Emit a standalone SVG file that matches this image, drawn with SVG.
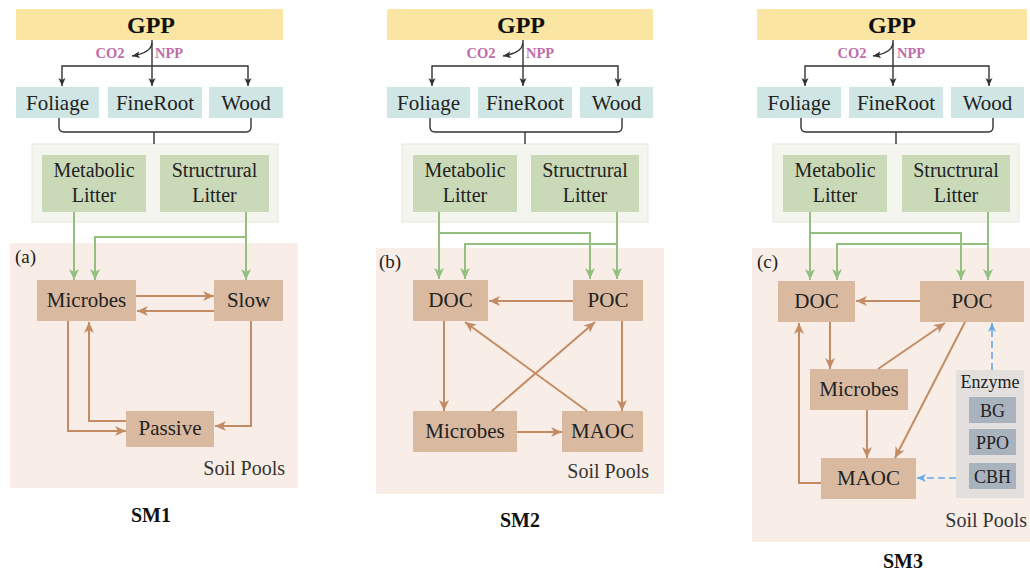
<svg xmlns="http://www.w3.org/2000/svg" width="1030" height="575" viewBox="0 0 1030 575" font-family="'Liberation Serif', serif">
  <style>
    text { font-family: 'Liberation Serif', serif; fill: #222; }
    .gpp-bar { fill: #fbe5a3; }
    .gpp { font-size: 24px; font-weight: bold; fill: #111; text-anchor: middle; }
    .flux { font-size: 14.5px; font-weight: bold; fill: #c06ca8; }
    .veg { fill: #d0e6e4; }
    .veg-t { font-size: 21px; text-anchor: middle; }
    .lit-wrap { fill: #f4f5ef; stroke: #e5e7dc; stroke-width: 1; }
    .lit { fill: #cad9b8; }
    .lit-t { font-size: 20px; text-anchor: middle; }
    .soil { fill: #f8eee7; }
    .pool { fill: #d9b9a0; }
    .pool-t { font-size: 21px; text-anchor: middle; }
    .tag { font-size: 19px; }
    .soil-t { font-size: 20px; text-anchor: end; fill: #333; }
    .sm { font-size: 20px; font-weight: bold; text-anchor: middle; fill: #111; }
    .enz-wrap { fill: #e2dfdc; }
    .enz { fill: #a9b3bd; }
    .enz-t { font-size: 18px; text-anchor: middle; }
    .dark { fill: none; stroke: #333; stroke-width: 1.4; }
    .green { fill: none; stroke: #93bf80; stroke-width: 2; }
    .brown { fill: none; stroke: #c48c64; stroke-width: 2; }
    .blue { fill: none; stroke: #62a8ee; stroke-width: 1.6; stroke-dasharray: 7 4; }
  </style>
  <defs>
    <marker id="ah-dark" markerUnits="userSpaceOnUse" markerWidth="8" markerHeight="8" refX="8" refY="3.5" orient="auto">
      <path d="M0,0 L8,3.5 L0,7 L2,3.5 z" fill="#333"/>
    </marker>
    <marker id="ah-green" markerUnits="userSpaceOnUse" markerWidth="12" markerHeight="12" refX="11" refY="5" orient="auto">
      <path d="M0,0 L11,5 L0,10 L3,5 z" fill="#93bf80"/>
    </marker>
    <marker id="ah-brown" markerUnits="userSpaceOnUse" markerWidth="12" markerHeight="12" refX="11" refY="5" orient="auto">
      <path d="M0,0 L11,5 L0,10 L3,5 z" fill="#c48c64"/>
    </marker>
    <marker id="ah-blue" markerUnits="userSpaceOnUse" markerWidth="10" markerHeight="10" refX="9" refY="4" orient="auto">
      <path d="M0,0 L9,4 L0,8 L2.5,4 z" fill="#62a8ee"/>
    </marker>
  </defs>

  <!-- background containers -->
  <g id="containers">
    <rect class="lit-wrap" x="32" y="144" width="246" height="78"/>
    <rect class="lit-wrap" x="402" y="144" width="246" height="78"/>
    <rect class="lit-wrap" x="773" y="144" width="246" height="78"/>
    <rect class="soil" x="10" y="243" width="288" height="245"/>
    <rect class="soil" x="376" y="248" width="288" height="246"/>
    <rect class="soil" x="752" y="248" width="278" height="294"/>
    <text class="tag" x="15" y="263">(a)</text>
    <text class="tag" x="379" y="268">(b)</text>
    <text class="tag" x="757" y="268">(c)</text>
    <text class="soil-t" x="285" y="475">Soil Pools</text>
    <text class="soil-t" x="649" y="478">Soil Pools</text>
    <text class="soil-t" x="1027" y="527">Soil Pools</text>
  </g>

  <!-- ===== SM1 ===== -->
  <g id="sm1-gpp"><rect class="gpp-bar" x="16" y="9" width="267" height="31"/><text class="gpp" x="151" y="33">GPP</text></g>
  <g id="sm1-foliage"><rect class="veg" x="16" y="87" width="83" height="31"/><text class="veg-t" x="57.5" y="110">Foliage</text></g>
  <g id="sm1-fineroot"><rect class="veg" x="108" y="87" width="94" height="31"/><text class="veg-t" x="155" y="110">FineRoot</text></g>
  <g id="sm1-wood"><rect class="veg" x="209" y="87" width="74" height="31"/><text class="veg-t" x="246" y="110">Wood</text></g>
  <g id="sm1-metabolic"><rect class="lit" x="42" y="155" width="104" height="57"/><text class="lit-t" x="94" y="177">Metabolic</text><text class="lit-t" x="94" y="202">Litter</text></g>
  <g id="sm1-structural"><rect class="lit" x="160" y="155" width="109" height="57"/><text class="lit-t" x="214.5" y="177">Structrural</text><text class="lit-t" x="214.5" y="202">Litter</text></g>
  <g id="sm1-microbes"><rect class="pool" x="37" y="280" width="99" height="41"/><text class="pool-t" x="86.5" y="307">Microbes</text></g>
  <g id="sm1-slow"><rect class="pool" x="214" y="280" width="69" height="41"/><text class="pool-t" x="248.5" y="307">Slow</text></g>
  <g id="sm1-passive"><rect class="pool" x="126" y="411" width="88" height="36"/><text class="pool-t" x="170" y="435">Passive</text></g>
  <text class="sm" x="151" y="522">SM1</text>

  <!-- ===== SM2 ===== -->
  <g id="sm2-gpp"><rect class="gpp-bar" x="387" y="9" width="266" height="31"/><text class="gpp" x="521" y="33">GPP</text></g>
  <g id="sm2-foliage"><rect class="veg" x="387" y="87" width="83" height="31"/><text class="veg-t" x="428.5" y="110">Foliage</text></g>
  <g id="sm2-fineroot"><rect class="veg" x="478" y="87" width="94" height="31"/><text class="veg-t" x="525" y="110">FineRoot</text></g>
  <g id="sm2-wood"><rect class="veg" x="580" y="87" width="73" height="31"/><text class="veg-t" x="616.5" y="110">Wood</text></g>
  <g id="sm2-metabolic"><rect class="lit" x="413" y="155" width="104" height="57"/><text class="lit-t" x="465" y="177">Metabolic</text><text class="lit-t" x="465" y="202">Litter</text></g>
  <g id="sm2-structural"><rect class="lit" x="531" y="155" width="108" height="57"/><text class="lit-t" x="585" y="177">Structrural</text><text class="lit-t" x="585" y="202">Litter</text></g>
  <g id="sm2-doc"><rect class="pool" x="413" y="280" width="75" height="41"/><text class="pool-t" x="450.5" y="307">DOC</text></g>
  <g id="sm2-poc"><rect class="pool" x="573" y="280" width="70" height="41"/><text class="pool-t" x="608" y="307">POC</text></g>
  <g id="sm2-microbes"><rect class="pool" x="413" y="411" width="104" height="41"/><text class="pool-t" x="465" y="438">Microbes</text></g>
  <g id="sm2-maoc"><rect class="pool" x="562" y="411" width="81" height="41"/><text class="pool-t" x="602.5" y="438">MAOC</text></g>
  <text class="sm" x="520" y="527">SM2</text>

  <!-- ===== SM3 ===== -->
  <g id="sm3-gpp"><rect class="gpp-bar" x="757" y="9" width="270" height="31"/><text class="gpp" x="892" y="33">GPP</text></g>
  <g id="sm3-foliage"><rect class="veg" x="757" y="87" width="84" height="31"/><text class="veg-t" x="799" y="110">Foliage</text></g>
  <g id="sm3-fineroot"><rect class="veg" x="849" y="87" width="94" height="31"/><text class="veg-t" x="896" y="110">FineRoot</text></g>
  <g id="sm3-wood"><rect class="veg" x="951" y="87" width="73" height="31"/><text class="veg-t" x="987.5" y="110">Wood</text></g>
  <g id="sm3-metabolic"><rect class="lit" x="783" y="155" width="104" height="57"/><text class="lit-t" x="835" y="177">Metabolic</text><text class="lit-t" x="835" y="202">Litter</text></g>
  <g id="sm3-structural"><rect class="lit" x="902" y="155" width="108" height="57"/><text class="lit-t" x="956" y="177">Structrural</text><text class="lit-t" x="956" y="202">Litter</text></g>
  <g id="sm3-doc"><rect class="pool" x="778" y="281" width="77" height="41"/><text class="pool-t" x="816.5" y="308">DOC</text></g>
  <g id="sm3-poc"><rect class="pool" x="920" y="281" width="104" height="41"/><text class="pool-t" x="972" y="308">POC</text></g>
  <g id="sm3-microbes"><rect class="pool" x="810" y="369" width="98" height="41"/><text class="pool-t" x="859" y="396">Microbes</text></g>
  <g id="sm3-maoc"><rect class="pool" x="821" y="458" width="95" height="41"/><text class="pool-t" x="868.5" y="485">MAOC</text></g>
  <g id="sm3-enzyme">
    <rect class="enz-wrap" x="956" y="370" width="68" height="128"/>
    <text class="enz-t" x="990" y="388">Enzyme</text>
    <rect class="enz" x="969" y="397" width="47" height="26"/><text class="enz-t" x="992.5" y="417">BG</text>
    <rect class="enz" x="969" y="429" width="47" height="26"/><text class="enz-t" x="992.5" y="449">PPO</text>
    <rect class="enz" x="969" y="463" width="47" height="26"/><text class="enz-t" x="992.5" y="483">CBH</text>
  </g>
  <text class="sm" x="903" y="568">SM3</text>

  <!-- connectors -->
  <g id="connectors">
    <!-- GPP allocation -->
    <g id="alloc-sm1">
      <path class="dark" d="M152,40 V86" marker-end="url(#ah-dark)"/>
      <path class="dark" d="M152,66 H62 V86" marker-end="url(#ah-dark)"/>
      <path class="dark" d="M152,66 H248 V86" marker-end="url(#ah-dark)"/>
      <path class="dark" d="M152,43 Q151,53 132,56" marker-end="url(#ah-dark)"/>
      <text class="flux" x="110" y="58" text-anchor="middle">CO2</text>
      <text class="flux" x="155" y="58">NPP</text>
      <path class="dark" d="M59,118 V127 Q59,132 64,132 H246 Q251,132 251,127 V118 M154,132 V144"/>
    </g>
    <g id="alloc-sm2">
      <path class="dark" d="M523,40 V86" marker-end="url(#ah-dark)"/>
      <path class="dark" d="M523,66 H432 V86" marker-end="url(#ah-dark)"/>
      <path class="dark" d="M523,66 H618 V86" marker-end="url(#ah-dark)"/>
      <path class="dark" d="M523,43 Q522,53 503,56" marker-end="url(#ah-dark)"/>
      <text class="flux" x="481" y="58" text-anchor="middle">CO2</text>
      <text class="flux" x="526" y="58">NPP</text>
      <path class="dark" d="M430,118 V127 Q430,132 435,132 H617 Q622,132 622,127 V118 M525,132 V144"/>
    </g>
    <g id="alloc-sm3">
      <path class="dark" d="M893,40 V86" marker-end="url(#ah-dark)"/>
      <path class="dark" d="M893,66 H805 V86" marker-end="url(#ah-dark)"/>
      <path class="dark" d="M893,66 H989 V86" marker-end="url(#ah-dark)"/>
      <path class="dark" d="M893,43 Q892,53 873,56" marker-end="url(#ah-dark)"/>
      <text class="flux" x="852" y="58" text-anchor="middle">CO2</text>
      <text class="flux" x="897" y="58">NPP</text>
      <path class="dark" d="M801,118 V127 Q801,132 806,132 H988 Q993,132 993,127 V118 M896,132 V144"/>
    </g>

    <!-- litter inputs -->
    <path class="green" d="M74,212 V280" marker-end="url(#ah-green)"/>
    <path class="green" d="M246,212 V280" marker-end="url(#ah-green)"/>
    <path class="green" d="M246,237 H95 V280" marker-end="url(#ah-green)"/>

    <path class="green" d="M439,212 V279" marker-end="url(#ah-green)"/>
    <path class="green" d="M439,233 H590 V279" marker-end="url(#ah-green)"/>
    <path class="green" d="M617,212 V279" marker-end="url(#ah-green)"/>
    <path class="green" d="M617,244 H465 V279" marker-end="url(#ah-green)"/>

    <path class="green" d="M810,212 V280" marker-end="url(#ah-green)"/>
    <path class="green" d="M810,233 H961 V280" marker-end="url(#ah-green)"/>
    <path class="green" d="M988,212 V280" marker-end="url(#ah-green)"/>
    <path class="green" d="M988,244 H837 V280" marker-end="url(#ah-green)"/>

    <!-- SM1 soil fluxes -->
    <path class="brown" d="M136,296 H214" marker-end="url(#ah-brown)"/>
    <path class="brown" d="M214,311 H137" marker-end="url(#ah-brown)"/>
    <path class="brown" d="M68,321 V431 H126" marker-end="url(#ah-brown)"/>
    <path class="brown" d="M126,421 H89 V322" marker-end="url(#ah-brown)"/>
    <path class="brown" d="M251,321 V426 H215" marker-end="url(#ah-brown)"/>

    <!-- SM2 soil fluxes -->
    <path class="brown" d="M573,301 H489" marker-end="url(#ah-brown)"/>
    <path class="brown" d="M444,321 V411" marker-end="url(#ah-brown)"/>
    <path class="brown" d="M622,321 V411" marker-end="url(#ah-brown)"/>
    <path class="brown" d="M517,432 H562" marker-end="url(#ah-brown)"/>
    <path class="brown" d="M492,411 L595,322" marker-end="url(#ah-brown)"/>
    <path class="brown" d="M587,411 L465,322" marker-end="url(#ah-brown)"/>

    <!-- SM3 soil fluxes -->
    <path class="brown" d="M920,301 H856" marker-end="url(#ah-brown)"/>
    <path class="brown" d="M830,322 V369" marker-end="url(#ah-brown)"/>
    <path class="brown" d="M878,369 L945,323" marker-end="url(#ah-brown)"/>
    <path class="brown" d="M965,322 L895,458" marker-end="url(#ah-brown)"/>
    <path class="brown" d="M867,410 V458" marker-end="url(#ah-brown)"/>
    <path class="brown" d="M821,483 H799 V323" marker-end="url(#ah-brown)"/>
    <path class="blue" d="M992,370 V323" marker-end="url(#ah-blue)"/>
    <path class="blue" d="M956,478 H917" marker-end="url(#ah-blue)"/>
  </g>
</svg>
